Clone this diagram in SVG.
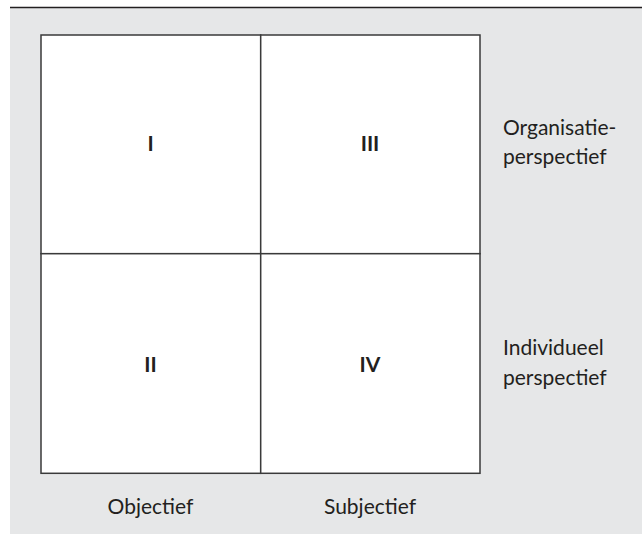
<svg xmlns="http://www.w3.org/2000/svg" width="642" height="534" viewBox="0 0 642 534">
  <style>
    .panel { fill: #e6e7e8; }
    .rule { stroke: #231f20; stroke-width: 1.5; }
    .cell { fill: #ffffff; stroke: #3a3a3a; stroke-width: 1.5; }
    .num { font-family: Lato, "Open Sans", "Liberation Sans", sans-serif; font-weight: bold; font-size: 21px; fill: #231f20; text-anchor: middle; }
    .lbl { font-family: Lato, "Open Sans", "Liberation Sans", sans-serif; font-size: 21px; fill: #231f20; }
  </style>
  <rect x="0" y="0" width="642" height="534" fill="#ffffff"/>
  <rect class="panel" x="10" y="8" width="632" height="526"/>
  <line class="rule" x1="10" y1="7.5" x2="642" y2="7.5"/>

  <g id="cell-I">
    <rect class="cell" x="41" y="35" width="219.7" height="218.7"/>
    <text class="num" x="150.5" y="151">I</text>
  </g>
  <g id="cell-III">
    <rect class="cell" x="260.7" y="35" width="219.3" height="218.7"/>
    <text class="num" x="370" y="151">III</text>
  </g>
  <g id="cell-II">
    <rect class="cell" x="41" y="253.7" width="219.7" height="219.6"/>
    <text class="num" x="150.5" y="372">II</text>
  </g>
  <g id="cell-IV">
    <rect class="cell" x="260.7" y="253.7" width="219.3" height="219.6"/>
    <text class="num" x="370" y="372">IV</text>
  </g>

  <g id="row-labels">
    <text class="lbl" x="503" y="135">Organisatie-</text>
    <text class="lbl" x="503" y="164">perspectief</text>
    <text class="lbl" x="503" y="355">Individueel</text>
    <text class="lbl" x="503" y="385">perspectief</text>
  </g>
  <g id="column-labels">
    <text class="lbl" x="150.5" y="514" text-anchor="middle">Objectief</text>
    <text class="lbl" x="370" y="514" text-anchor="middle">Subjectief</text>
  </g>
</svg>
